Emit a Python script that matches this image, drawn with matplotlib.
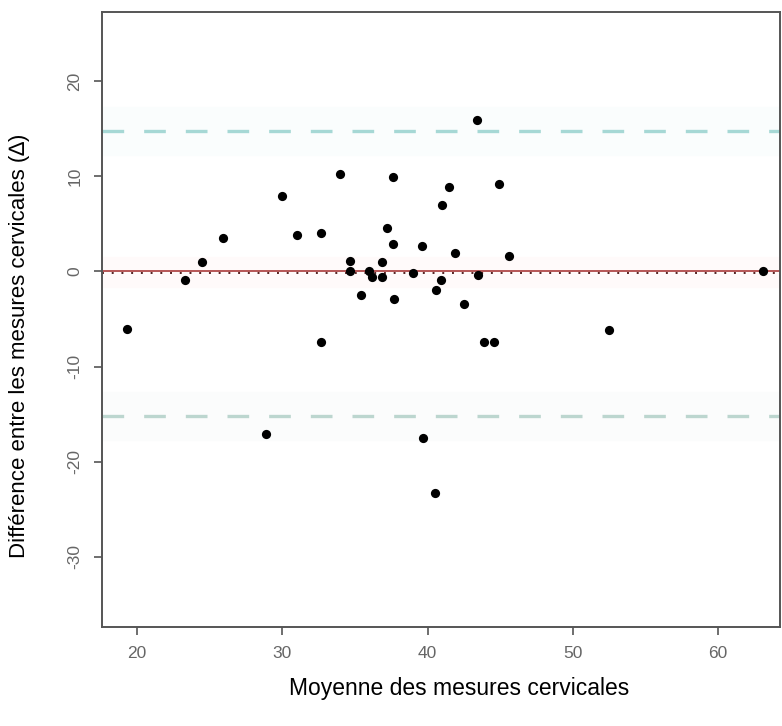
"""
Bland-Altman : moyenne vs difference des mesures cervicales
"""
import matplotlib
matplotlib.use("Agg")
import matplotlib.pyplot as plt

plt.rcParams['font.family'] = ['Liberation Sans', 'DejaVu Sans']

moyenne = [19.3, 23.3, 24.5, 25.9, 30.0, 31.0, 32.7, 32.7, 34.0, 37.6,
           43.4, 41.5, 44.9, 41.0, 37.2, 37.6, 39.6, 41.9, 45.6, 34.7,
           36.9, 34.7, 36.0, 36.2, 36.9, 39.0, 40.9, 43.5, 35.4, 40.6,
           37.7, 42.5, 43.9, 44.6, 52.5, 63.1, 28.9, 39.7, 40.5]
difference = [-6.0, -0.9, 1.0, 3.5, 7.9, 3.8, 4.0, -7.4, 10.3, 9.9,
              15.9, 8.9, 9.2, 7.0, 4.6, 2.9, 2.7, 1.9, 1.6, 1.1,
              1.0, 0.0, 0.1, -0.6, -0.6, -0.2, -0.9, -0.4, -2.5, -2.0,
              -2.9, -3.4, -7.4, -7.4, -6.2, 0.1, -17.1, -17.5, -23.3]

biais = 0.0
lim_sup = 14.8
lim_inf = -15.2

fig = plt.figure(figsize=(7.82, 7.26), dpi=100)
ax = fig.add_axes([0.1304, 0.1364, 0.8670, 0.8471])

# bandes de confiance a peine visibles
ax.axhspan(12.3, 17.3, color="#fafdfd", zorder=0)
ax.axhspan(-17.7, -12.7, color="#fbfcfc", zorder=0)
ax.axhspan(-1.6, 1.5, color="#fffafa", zorder=0)

ax.axhline(lim_sup, color="#a6d8d5", lw=2.4, dashes=(6.5, 6.0), zorder=1)
ax.axhline(lim_inf, color="#bcd6cf", lw=2.4, dashes=(6.5, 6.0), zorder=1)
ax.axhline(biais, color="#b04848", lw=1.3, zorder=2)
ax.axhline(biais - 0.2, color="#552222", lw=1.4, dashes=(1.0, 4.0), zorder=2)

ax.scatter(moyenne, difference, s=44, color="black", zorder=3, linewidths=0)

ax.set_xlim(17.6, 64.25)
ax.set_ylim(-37.4, 27.3)
ax.set_xticks([20, 30, 40, 50, 60])
ax.set_yticks([-30, -20, -10, 0, 10, 20])
ax.set_yticklabels(["-30", "-20", "-10", "0", "10", "20"], rotation=90, va="center")

for s in ax.spines.values():
    s.set_color("#555555")
    s.set_linewidth(1.4)
ax.tick_params(colors="#555555", labelcolor="#666666", labelsize=12.5,
               length=6, width=1.2, pad=8)

fig.text(459 / 782, 1 - 688 / 726, "Moyenne des mesures cervicales",
         ha="center", va="center", fontsize=16.5)
fig.text(20 / 782, 1 - 346 / 726, "Différence entre les mesures cervicales (∆)",
         ha="center", va="center", rotation=90, fontsize=16)

fig.savefig("out.png", dpi=100)
